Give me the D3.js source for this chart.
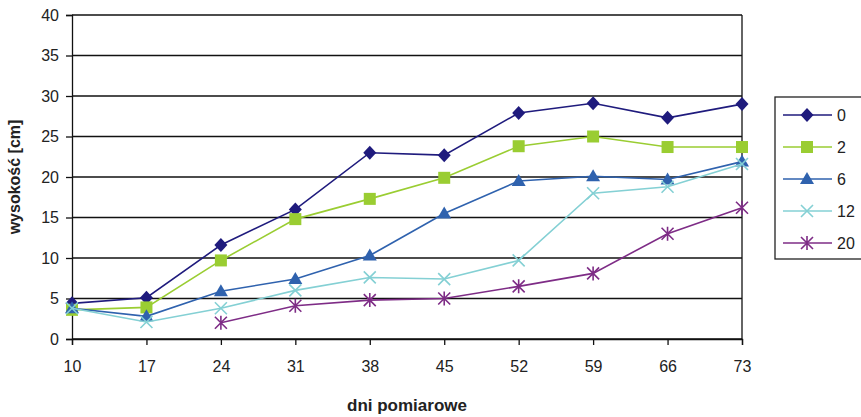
<!DOCTYPE html>
<html>
<head>
<meta charset="utf-8">
<script src="https://cdn.jsdelivr.net/npm/d3@7"></script>
<style>
  body { margin: 0; background: #fff; }
  svg text { font-family: "Liberation Sans", Arial, sans-serif; fill: #222; }
</style>
</head>
<body>
<svg id="chart" width="861" height="417"></svg>
<script>
// measurement days (x axis)
var days = [10, 17, 24, 31, 38, 45, 52, 59, 66, 73];
var yTicks = [0, 5, 10, 15, 20, 25, 30, 35, 40];

var s0  = [4.4, 5.1, 11.6, 16.0, 23.0, 22.7, 27.9, 29.1, 27.3, 29.0];
var s2  = [3.6, 3.9, 9.7, 14.8, 17.3, 19.9, 23.8, 25.0, 23.7, 23.7];
var s6  = [3.8, 2.8, 5.9, 7.4, 10.3, 15.5, 19.5, 20.1, 19.7, 21.9];
var s12 = [3.8, 2.1, 3.8, 6.0, 7.6, 7.4, 9.7, 18.0, 18.8, 21.6];
var s20 = [null, null, 2.0, 4.1, 4.8, 5.0, 6.5, 8.1, 13.0, 16.2];

var seriesNames = ["0", "2", "6", "12", "20"];
var seriesColors = ["#1f1b7d", "#9acd32", "#2f62ae", "#84d0d4", "#7e2c86"];
var seriesMarkers = ["diamond", "square", "triangle", "cross", "star"];
var seriesValues = [s0, s2, s6, s12, s20];

var svg = d3.select("#chart");
var plot = { left: 72, right: 742, top: 15, bottom: 339 };

var x = d3.scalePoint().domain(days).range([plot.left, plot.right]);
var y = d3.scaleLinear().domain([0, 40]).range([plot.bottom, plot.top]);

// gridlines
svg.append("g")
  .selectAll("line")
  .data(yTicks)
  .enter().append("line")
  .attr("x1", plot.left).attr("x2", plot.right)
  .attr("y1", d => y(d)).attr("y2", d => y(d))
  .attr("stroke", "#111").attr("stroke-width", 1.3);

// right border
svg.append("line")
  .attr("x1", plot.right).attr("x2", plot.right)
  .attr("y1", plot.top).attr("y2", plot.bottom)
  .attr("stroke", "#111").attr("stroke-width", 1.3);

// axes
var yAxis = svg.append("g")
  .attr("transform", "translate(" + plot.left + ",0)")
  .call(d3.axisLeft(y).tickValues(yTicks).tickSize(6).tickPadding(7));
var xAxis = svg.append("g")
  .attr("transform", "translate(0," + plot.bottom + ")")
  .call(d3.axisBottom(x).tickSize(6).tickPadding(16));

[yAxis, xAxis].forEach(a => {
  a.select(".domain").attr("stroke", "#111").attr("stroke-width", 1.3);
  a.selectAll(".tick line").attr("stroke", "#111").attr("stroke-width", 1.3);
  a.selectAll("text").attr("font-size", 16).attr("fill", "#222");
});

// axis titles
svg.append("text")
  .attr("transform", "translate(20," + (plot.top + plot.bottom) / 2 + ") rotate(-90)")
  .attr("text-anchor", "middle")
  .attr("font-size", 16).attr("font-weight", "bold")
  .text("wysokość [cm]");
svg.append("text")
  .attr("x", 407).attr("y", 411)
  .attr("text-anchor", "middle")
  .attr("font-size", 17).attr("font-weight", "bold")
  .text("dni pomiarowe");

// marker drawing
function drawMarker(g, type, color, cx, cy) {
  var t = "translate(" + cx + "," + cy + ")";
  if (type === "diamond") {
    g.append("path").attr("d", "M0,-7L6.5,0L0,7L-6.5,0Z")
      .attr("transform", t).attr("fill", color);
  } else if (type === "square") {
    g.append("rect").attr("x", cx - 6).attr("y", cy - 6).attr("width", 12).attr("height", 12)
      .attr("fill", color);
  } else if (type === "triangle") {
    g.append("path").attr("d", "M0,-7L7,5L-7,5Z")
      .attr("transform", t).attr("fill", color);
  } else if (type === "cross") {
    g.append("path").attr("d", "M-6,-6L6,6M-6,6L6,-6")
      .attr("transform", t)
      .attr("stroke", color).attr("stroke-width", 1.6).attr("fill", "none");
  } else if (type === "star") {
    g.append("path").attr("d", "M-6,-6L6,6M-6,6L6,-6M0,-7L0,7")
      .attr("transform", t)
      .attr("stroke", color).attr("stroke-width", 1.6).attr("fill", "none");
  }
}

var line = d3.line()
  .defined(d => d.v !== null)
  .x(d => x(d.day))
  .y(d => y(d.v));

seriesValues.forEach((vals, i) => {
  var pts = days.map((day, j) => ({ day: day, v: vals[j] }));
  var g = svg.append("g");
  g.append("path")
    .attr("d", line(pts))
    .attr("fill", "none")
    .attr("stroke", seriesColors[i])
    .attr("stroke-width", 1.6);
  pts.filter(p => p.v !== null).forEach(p => {
    drawMarker(g, seriesMarkers[i], seriesColors[i], x(p.day), y(p.v));
  });
});

// legend
var legend = svg.append("g");
legend.append("rect")
  .attr("x", 775).attr("y", 97).attr("width", 100).attr("height", 162)
  .attr("fill", "#fff").attr("stroke", "#222").attr("stroke-width", 1.3);
var legY = d3.scalePoint().domain(seriesNames).range([115, 243]);
seriesNames.forEach((name, i) => {
  var ly = legY(name);
  legend.append("line")
    .attr("x1", 783).attr("x2", 832).attr("y1", ly).attr("y2", ly)
    .attr("stroke", seriesColors[i]).attr("stroke-width", 1.6);
  drawMarker(legend, seriesMarkers[i], seriesColors[i], 807, ly);
  legend.append("text")
    .attr("x", 837).attr("y", ly + 6)
    .attr("font-size", 16)
    .text(name);
});
</script>
</body>
</html>
